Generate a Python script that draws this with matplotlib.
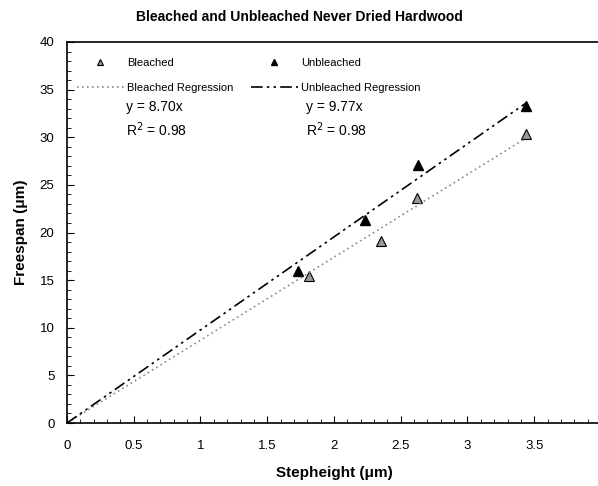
import numpy as np
import matplotlib
matplotlib.use('Agg')
import matplotlib.pyplot as plt

plt.rcParams['font.family'] = ['Liberation Sans', 'DejaVu Sans']

bl_x = [1.81, 2.35, 2.62, 3.44]
bl_y = [15.4, 19.1, 23.6, 30.3]
ub_x = [1.73, 2.23, 2.63, 3.44]
ub_y = [16.0, 21.3, 27.1, 33.3]
bl_slope = 8.70
ub_slope = 9.77
fit_x = np.array([0, 3.44])

fig = plt.figure(figsize=(5.98, 4.86), dpi=100)
ax = fig.add_axes([0.112, 0.1296, 0.893, 0.784])

pb, = ax.plot(bl_x, bl_y, '^', color='#999999', mec='black', mew=0.8, ms=7, label='Bleached', ls='none')
pu, = ax.plot(ub_x, ub_y, '^', color='black', mec='black', ms=7, label='Unbleached', ls='none')
lb, = ax.plot(fit_x, bl_slope * fit_x, color='#888888', lw=1.2, dashes=(1, 2), label='Bleached Regression')
lu, = ax.plot(fit_x, ub_slope * fit_x, color='black', lw=1.2, dashes=(7, 2.5, 1.5, 2.5, 1.5, 2.5), label='Unbleached Regression')

ax.legend(handles=[pb, lb, pu, lu], ncol=2, loc='upper left', bbox_to_anchor=(0.0, 0.985),
          frameon=False, fontsize=8, handlelength=4.2, columnspacing=1.6, labelspacing=1.35,
          handletextpad=0.3, markerscale=0.7)

ax.text(0.111, 0.829, 'y = %.2fx' % bl_slope, transform=ax.transAxes, fontsize=10, va='center')
ax.text(0.111, 0.769, r'R$^2$ = 0.98', transform=ax.transAxes, fontsize=10, va='center')
ax.text(0.448, 0.829, 'y = %.2fx' % ub_slope, transform=ax.transAxes, fontsize=10, va='center')
ax.text(0.448, 0.769, r'R$^2$ = 0.98', transform=ax.transAxes, fontsize=10, va='center')

ax.set_xlim(0, 4)
ax.set_ylim(0, 40)
ax.set_xticks(np.arange(0, 4.01, 0.5))
ax.set_xticklabels(['0', '0.5', '1', '1.5', '2', '2.5', '3', '3.5', '4'])
ax.set_xticks(np.arange(0, 4.01, 0.1), minor=True)
ax.set_yticks(np.arange(0, 41, 5))
ax.set_yticks(np.arange(0, 41, 1), minor=True)
ax.tick_params(which='both', direction='in', labelsize=9.5, top=False, right=False)
ax.tick_params(axis='x', pad=12)
ax.tick_params(axis='y', pad=9)
ax.tick_params(which='major', length=5)
ax.tick_params(which='minor', length=3)
for s in ax.spines.values():
    s.set_linewidth(1.2)

ax.set_xlabel('Stepheight (\u03bcm)', fontsize=11, fontweight='bold', labelpad=10)
ax.set_ylabel('Freespan (\u03bcm)', fontsize=11, fontweight='bold', labelpad=8)
fig.text(0.5, 0.965, 'Bleached and Unbleached Never Dried Hardwood', ha='center', va='center',
         fontsize=10, fontweight='bold')

fig.savefig('out.png', dpi=100)
